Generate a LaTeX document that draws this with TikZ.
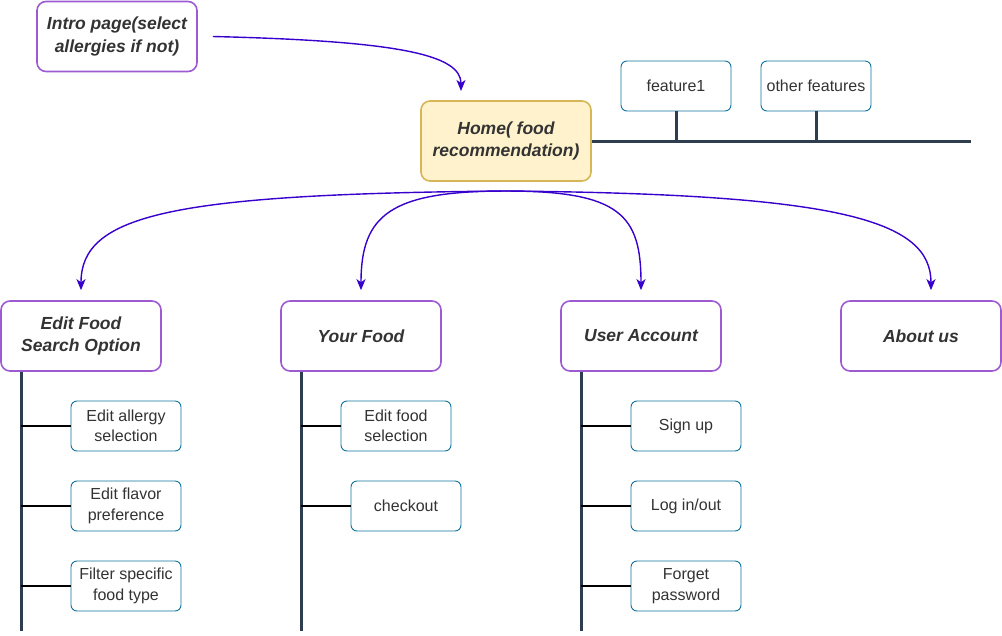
\documentclass[tikz,border=0pt]{standalone}
\usepackage{fontspec}
\setmainfont{Liberation Sans}
\usetikzlibrary{arrows.meta}
\definecolor{txtgray}{HTML}{333333}
\definecolor{pagepurple}{HTML}{9D5BD2}
\definecolor{homefill}{HTML}{FFF2CC}
\definecolor{homeline}{HTML}{D6B656}
\definecolor{subblue}{HTML}{10739E}
\definecolor{spinegray}{HTML}{2F3E4E}
\definecolor{flowblue}{HTML}{3700CC}
\begin{document}
\begin{tikzpicture}[x=1pt,y=-1pt,
    pagebox/.style={draw=pagepurple, line width=1.6pt, rounded corners=9pt, fill=white, text=txtgray,
      minimum width=160pt, minimum height=70pt, align=center, font=\fontsize{17.5}{22.5}\selectfont\bfseries\itshape},
    homebox/.style={pagebox, draw=homeline, fill=homefill, minimum width=170pt, minimum height=80pt},
    subbox/.style={draw=subblue, line width=0.9pt, rounded corners=6pt, fill=white, text=txtgray,
      minimum width=110pt, minimum height=50pt, align=center, font=\fontsize{16}{20.5}\selectfont},
    flow/.style={draw=flowblue, line width=1.4pt, -{Stealth[length=11pt,width=9pt,inset=3pt]}},
    spine/.style={draw=spinegray, line width=3pt},
    branch/.style={draw=black, line width=2.8pt}]
    \useasboundingbox (0,0) rectangle (1002,635);
    % top row
    \node [pagebox] (intro) at (117,36.5) {Intro page(select\\allergies if not)};
    \node [homebox] (home) at (506,141) {Home( food\\recommendation)};
    \node [subbox] (feat1) at (676,86) {feature1};
    \node [subbox] (featx) at (816,86) {other features};
    \coordinate (railend) at (971,141);
    \coordinate (hub) at (506,191);
    % second row
    \node [pagebox] (edit) at (81,336) {Edit Food\\Search Option};
    \node [pagebox] (yours) at (361,336) {Your Food};
    \node [pagebox] (account) at (641,336) {User Account};
    \node [pagebox] (about) at (921,336) {About us};
    % leaves
    \node [subbox] (allergy) at (126,426) {Edit allergy\\selection};
    \node [subbox] (flavor) at (126,506) {Edit flavor\\preference};
    \node [subbox] (filter) at (126,586) {Filter specific\\food type};
    \node [subbox] (foodsel) at (396,426) {Edit food\\selection};
    \node [subbox] (checkout) at (406,506) {checkout};
    \node [subbox] (signup) at (686,426) {Sign up};
    \node [subbox] (login) at (686,506) {Log in/out};
    \node [subbox] (forget) at (686,586) {Forget\\password};
    \coordinate (editfoot) at (21,631);
    \coordinate (yoursfoot) at (301,631);
    \coordinate (accountfoot) at (581,631);
    % feature rail
    \path[spine] (home.east) -- (railend);
    \path[spine] (feat1.south) -- (feat1.south |- railend);
    \path[spine] (featx.south) -- (featx.south |- railend);
    % spines and branches
    \path[spine] (edit.south -| editfoot) -- (editfoot);
    \path[spine] (yours.south -| yoursfoot) -- (yoursfoot);
    \path[spine] (account.south -| accountfoot) -- (accountfoot);
    \path[branch] (allergy.west -| editfoot) -- (allergy.west);
    \path[branch] (flavor.west -| editfoot) -- (flavor.west);
    \path[branch] (filter.west -| editfoot) -- (filter.west);
    \path[branch] (foodsel.west -| yoursfoot) -- (foodsel.west);
    \path[branch] (checkout.west -| yoursfoot) -- (checkout.west);
    \path[branch] (signup.west -| accountfoot) -- (signup.west);
    \path[branch] (login.west -| accountfoot) -- (login.west);
    \path[branch] (forget.west -| accountfoot) -- (forget.west);
    % flows
    \path[flow] ([xshift=15pt]intro.east) .. controls (400,41) and (461,55) .. (461,91);
    \path[flow] (hub) .. controls (170,194) and (81,215) .. ([yshift=10pt]edit.north);
    \path[flow] (hub) .. controls (390,191) and (361,215) .. ([yshift=10pt]yours.north);
    \path[flow] (hub) .. controls (620,191) and (641,215) .. ([yshift=10pt]account.north);
    \path[flow] (hub) .. controls (840,194) and (931,220) .. ([yshift=10pt,xshift=10pt]about.north);
\end{tikzpicture}
\end{document}
